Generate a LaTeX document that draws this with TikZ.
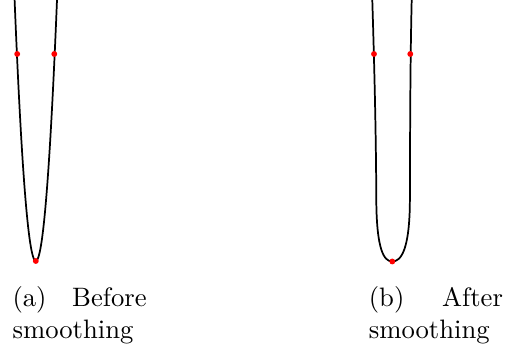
\documentclass[tikz,border=0pt]{standalone}
\begin{document}
\begin{tikzpicture}[x=0.375pt,y=-0.375pt,
  curveline/.style={line width=0.65pt,black},
  reddot/.style={circle,fill=red,inner sep=0pt,minimum size=2.2pt},
  captext/.style={anchor=north west,inner sep=0pt,text width=50.3pt,align=justify,font=\normalsize}]
\useasboundingbox (0,0) rectangle (505,348);
% (a) before smoothing
\draw[curveline] plot[domain=-21.2:21.2,samples=120,smooth] ({35.8+\x},{261-0.5807*\x*\x});
\node[reddot] (a1) at (17.2,54) {};
\node[reddot] (a2) at (54.3,54) {};
\node[reddot] (a3) at (35.8,261) {};
% (b) after smoothing
\draw[curveline] (372.3,0) .. controls (373.5,40) and (376,120) .. (376.3,200)
  .. controls (376.6,250) and (384,261.5) .. (392.3,261.5)
  .. controls (401,261.5) and (409.7,250) .. (409.9,200)
  .. controls (410.1,120) and (410.3,60) .. (411.7,0);
\node[reddot] (b1) at (374,54) {};
\node[reddot] (b2) at (410.3,54) {};
\node[reddot] (b3) at (392.3,261.5) {};
% captions
\node[captext] (ca) at (12,286) {(a) Before smoothing};
\node[captext] (cb) at (368.3,286) {(b) After smoothing};
\end{tikzpicture}
\end{document}
